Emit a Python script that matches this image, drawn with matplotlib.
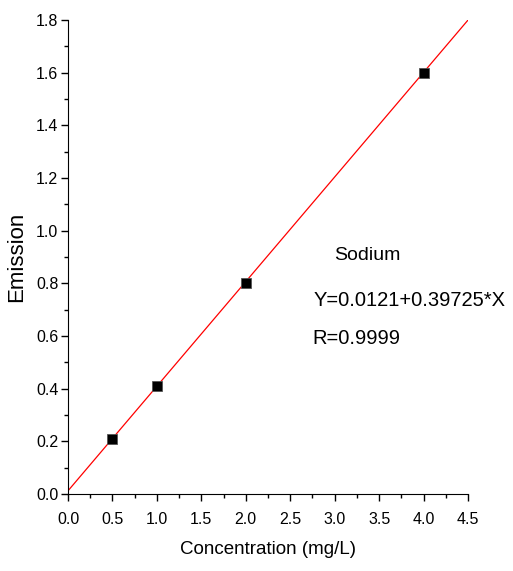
import matplotlib
matplotlib.use("Agg")
import matplotlib.pyplot as plt
import numpy as np
from matplotlib.ticker import MultipleLocator, FormatStrFormatter

conc = [0.5, 1.0, 2.0, 4.0]
emission = [0.21, 0.41, 0.80, 1.60]
intercept = 0.0121
slope = 0.39725
fit_x = [0.0, 4.5]

plt.rcParams['font.family'] = ['Liberation Sans', 'DejaVu Sans']

fig = plt.figure(figsize=(5.13, 5.71), dpi=100)
ax = fig.add_axes([68/513, 77/571, 400/513, 474/571])

fx = np.array(fit_x)
ax.plot(fx, intercept + slope*fx, color='red', lw=0.9)
ax.plot(conc, emission, linestyle='none', marker='s', markersize=6.5,
        markerfacecolor='black', markeredgecolor='#555555', markeredgewidth=0.6)

ax.set_xlim(0, 4.5)
ax.set_ylim(0, 1.8)
ax.xaxis.set_major_locator(MultipleLocator(0.5))
ax.xaxis.set_minor_locator(MultipleLocator(0.25))
ax.yaxis.set_major_locator(MultipleLocator(0.2))
ax.yaxis.set_minor_locator(MultipleLocator(0.1))
ax.xaxis.set_major_formatter(FormatStrFormatter('%.1f'))
ax.yaxis.set_major_formatter(FormatStrFormatter('%.1f'))
for s in ['top', 'right']:
    ax.spines[s].set_visible(False)
ax.tick_params(which='major', direction='out', length=5, width=1, labelsize=11.5, pad=2)
ax.tick_params(which='minor', direction='out', length=3, width=1)
ax.tick_params(axis='x', pad=8)
ax.set_xlabel('Concentration (mg/L)', fontsize=13.5, labelpad=10)
ax.set_ylabel('Emission', fontsize=16, labelpad=6)

fig.text(367/513, 1 - 255/571, 'Sodium', fontsize=14, ha='center', va='center')
fig.text(314/513, 1 - 301/571, 'Y=0.0121+0.39725*X', fontsize=14.5, ha='left', va='center')
fig.text(312/513, 1 - 338/571, 'R=0.9999', fontsize=14.5, ha='left', va='center')

fig.savefig('out.png', dpi=100)
